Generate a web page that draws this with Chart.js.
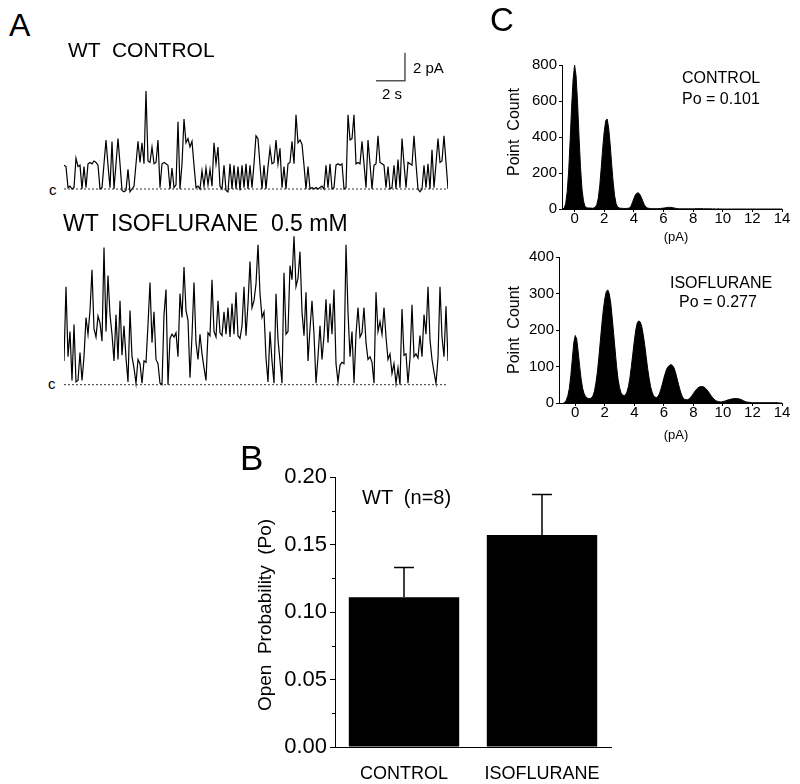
<!DOCTYPE html>
<html>
<head>
<meta charset="utf-8">
<script src="https://cdn.jsdelivr.net/npm/chart.js@4.4.1/dist/chart.umd.min.js"></script>
<style>
  html, body { margin:0; padding:0; background:#fff; }
  #fig { position:relative; width:800px; height:784px; overflow:hidden; font-family:"Liberation Sans", Arial, sans-serif; color:#000; }
  canvas { position:absolute; }
  .t { position:absolute; line-height:1; white-space:pre; color:#000; }
  .rot { position:absolute; line-height:1; white-space:pre; transform:translate(-50%,-50%) rotate(-90deg); }
</style>
</head>
<body>
<div id="fig">
  <canvas id="trControl" width="384" height="152" style="left:64px;top:45px;"></canvas>
  <canvas id="trIso" width="384" height="162" style="left:64px;top:228px;"></canvas>
  <canvas id="hControl" width="320" height="200" style="left:480px;top:50px;"></canvas>
  <canvas id="hIso" width="320" height="200" style="left:480px;top:240px;"></canvas>
  <canvas id="bars" width="400" height="324" style="left:230px;top:460px;"></canvas>

  <div class="t" style="left:9px;top:9px;font-size:32px;">A</div>
  <div class="t" style="left:68px;top:39px;font-size:21px;">WT  CONTROL</div>
  <div class="t" style="left:413px;top:60px;font-size:15px;">2 pA</div>
  <div class="t" style="left:382px;top:86px;font-size:15px;">2 s</div>
  <div class="t" style="left:49px;top:182px;font-size:15px;">c</div>
  <div class="t" style="left:63px;top:212px;font-size:23px;">WT  ISOFLURANE  0.5 mM</div>
  <div class="t" style="left:48px;top:376px;font-size:15px;">c</div>

  <div class="t" style="left:490px;top:3px;font-size:33px;">C</div>
  <div class="t" style="left:682px;top:70px;font-size:16px;">CONTROL</div>
  <div class="t" style="left:682px;top:91px;font-size:16px;">Po = 0.101</div>
  <div class="rot" style="left:514px;top:132px;font-size:16px;">Point  Count</div>
  <div class="t" style="left:676px;top:230px;font-size:13px;transform:translateX(-50%);">(pA)</div>
  <div class="t" style="left:670px;top:275px;font-size:16px;">ISOFLURANE</div>
  <div class="t" style="left:679px;top:294px;font-size:16px;">Po = 0.277</div>
  <div class="rot" style="left:514px;top:330px;font-size:16px;">Point  Count</div>
  <div class="t" style="left:676px;top:428px;font-size:13px;transform:translateX(-50%);">(pA)</div>

  <div class="t" style="left:240px;top:440px;font-size:35px;">B</div>
  <div class="t" style="left:362px;top:487px;font-size:20px;">WT  (n=8)</div>
  <div class="rot" style="left:264px;top:615px;font-size:19px;">Open  Probability  (Po)</div>
</div>
<script>
// ---------------- data ----------------
const sampleInterval = 0.1379; // s per sample (2 s scale bar)
const controlTrace = [
  1.7, 1.6, 0.1, 0.2, 0.0, 0.1, 2.2, 1.6, 1.7, 0.0,
  1.6, 0.1, 1.8, 1.9, 1.8, 2.0, 1.9, 1.7, 0.0, 0.1,
  1.8, 3.5, 1.7, 0.1, 3.4, 0.0, 1.8, 3.6, 1.8, -0.1,
  -0.2, -0.1, 1.4, -0.2, 0.0, 0.2, 1.8, 3.4, 1.9, 3.3,
  1.8, 7.0, 2.0, 1.9, 3.0, 1.8, 1.9, 3.5, 0.1, 1.8,
  1.9, 1.8, 1.7, 0.0, 1.5, 0.1, 0.3, 4.8, 0.0, 1.8,
  5.0, 3.3, 3.6, 3.0, 3.4, 1.7, 0.1, 0.2, 0.0, 1.3,
  0.2, 1.5, 0.3, 1.4, 0.2, 3.3, 1.8, 3.0, 0.2, 0.0,
  1.7, -0.1, -0.2, 1.8, 0.0, 1.7, 0.0, 1.6, -0.1, 1.7,
  0.1, 1.8, 0.0, 1.7, 0.1, 1.8, 3.8, 3.6, 1.7, 0.0,
  1.7, 0.0, 1.6, 2.9, 1.8, 1.9, 3.5, 1.8, 2.9, 0.1,
  1.6, 0.0, 1.8, 1.9, 3.4, 1.8, 5.3, 3.3, 3.5, 3.2,
  1.7, 0.0, 1.6, 0.0, 0.1, 0.0, 0.1, 0.0, 0.1, 0.2,
  0.0, 1.7, 0.1, 1.8, 0.0, 0.1, 1.7, 1.8, 1.7, 1.8,
  0.0, 0.1, 5.3, 3.5, 3.6, 5.3, 1.8, 1.9, 1.8, 3.4,
  1.8, 0.1, 3.5, 1.8, 0.0, 1.7, 1.8, 3.8, 1.9, 1.8,
  1.7, 0.1, 1.6, 0.0, 0.1, 1.7, 0.0, 2.1, 0.1, 3.6,
  1.8, 0.1, 1.9, 1.8, 1.7, 3.8, 1.8, 0.0, -0.2, 0.0,
  1.7, 0.1, 1.8, 0.0, 2.8, 0.1, 1.8, 3.6, 1.9, 2.0,
  3.8, 1.9, 0.0
];
const isoTrace = [
  1.7, 7.0, 2.0, 3.8, 0.3, 4.3, 0.2, 0.3, 2.3, 0.3,
  2.0, 4.8, 3.6, 5.3, 8.2, 4.0, 3.4, 4.9, 4.4, 3.1,
  9.8, 3.8, 7.8, 5.0, 3.6, 1.7, 5.0, 1.8, 6.0, 2.1,
  4.2, 1.9, 0.2, 5.3, 2.0, 1.2, 0.1, 1.8, 1.5, 0.1,
  1.7, 1.6, 4.3, 7.3, 3.0, 5.2, 1.8, 1.5, 0.1, 0.0,
  5.0, 6.8, 0.0, 3.3, 3.6, 3.4, 3.7, 2.0, 6.5, 4.8,
  8.4, 5.3, 4.6, 0.5, 3.5, 7.3, 3.0, 1.8, 3.6, 2.2,
  1.2, 0.3, 3.7, 3.5, 7.5, 3.8, 3.4, 6.0, 3.7, 3.5,
  5.2, 3.6, 5.5, 3.4, 5.8, 3.6, 6.6, 3.5, 3.3, 4.2,
  7.0, 3.5, 5.8, 8.8, 5.5, 6.0, 7.2, 10.0, 6.5, 4.8,
  5.2, 1.9, 0.2, 3.8, 1.7, 0.1, 6.5, 3.2, 1.7, 0.1,
  8.0, 3.6, 3.8, 8.5, 7.5, 10.6, 7.0, 7.6, 9.5, 5.2,
  3.5, 6.6, 1.7, 4.0, 6.0, 3.6, 0.1, 2.0, 4.2, 1.8,
  3.5, 6.1, 3.0, 5.8, 3.6, 6.8, 1.5, 0.2, 1.4, 1.6,
  1.5, 10.0, 5.2, 2.0, 3.8, 0.1, 3.6, 5.5, 3.4, 3.7,
  5.5, 3.0, 1.8, 2.0, 1.6, 0.1, 6.6, 3.8, 4.5, 3.6,
  5.5, 3.4, 1.8, 2.2, 0.8, 1.5, 0.1, 1.2, 0.0, 5.4,
  2.1, 2.2, 0.1, 1.9, 5.7, 2.0, 2.2, 1.9, 3.5, 2.0,
  5.0, 3.6, 7.0, 3.2, 1.8, 0.9, 0.1, 1.9, 7.0, 3.4,
  2.0, 5.6, 1.7
];

const histBinStart = -0.8;  // pA
const histBinWidth = 0.1;   // pA
const controlCounts = [
  0, 5, 30, 95, 210, 380, 570, 720,
  800, 740, 590, 400, 230, 110, 45, 15, 8, 5,
  6, 5, 4, 6, 10, 25, 60, 130, 230, 340,
  430, 490, 500, 450, 360, 250, 150, 75, 30, 12,
  6, 4, 4, 3, 3, 3, 4, 5, 15, 35,
  58, 78, 88, 90, 82, 65, 45, 25, 12, 6,
  4, 3, 2, 2, 2, 2, 2, 3, 3, 4,
  5, 6, 8, 9, 9, 9, 8, 6, 4, 3,
  2, 1, 1, 1, 1, 1, 1, 1, 1, 1,
  1, 1, 2, 2, 2, 2, 2, 1, 1, 1,
  1, 1, 1, 0, 1, 0, 0, 1, 0, 0,
  0, 0, 0, 0, 0, 0, 0, 0, 0, 0,
  0, 0, 0, 0, 0, 0, 0, 0, 0, 0,
  0, 0, 0, 0, 0, 0, 0, 0, 0, 0,
  0, 0, 0, 0, 0, 0, 0, 0, 0, 0,
  0
];
const isoCounts = [
  0, 2, 8, 20, 40, 75, 120, 165,
  185, 175, 140, 100, 65, 40, 25, 18, 14, 12,
  12, 14, 20, 32, 55, 85, 125, 170, 215, 255,
  285, 305, 310, 300, 275, 235, 190, 145, 100, 65,
  42, 28, 22, 20, 22, 30, 45, 68, 100, 135,
  170, 200, 220, 225, 222, 210, 188, 160, 128, 95,
  68, 45, 30, 20, 16, 15, 18, 25, 38, 52,
  68, 82, 94, 100, 104, 105, 102, 95, 82, 66,
  50, 35, 22, 14, 10, 9, 9, 11, 15, 20,
  26, 32, 37, 41, 44, 45, 45, 44, 41, 37,
  32, 26, 20, 15, 11, 7, 5, 4, 3, 3,
  4, 5, 6, 8, 9, 10, 11, 12, 12, 12,
  12, 11, 10, 8, 6, 4, 3, 2, 2, 1,
  1, 1, 1, 1, 1, 1, 1, 1, 1, 1,
  1, 1, 1, 1, 1, 1, 1, 1, 0, 0,
  0
];
const histXTicks = [0, 2, 4, 6, 8, 10, 12, 14];
const controlYTicks = [0, 200, 400, 600, 800];
const isoYTicks = [0, 100, 200, 300, 400];

const barCategories = ['CONTROL', 'ISOFLURANE'];
const barMeans = [0.111, 0.157];
const barSEM = [0.022, 0.030];
const poYTicks = [0, 0.05, 0.10, 0.15, 0.20];
const poMinorTicks = [0.025, 0.075, 0.125, 0.175];

// ---------------- charts ----------------
Chart.defaults.font.family = '"Liberation Sans", Arial, sans-serif';
Chart.defaults.color = '#000';
const common = { responsive:false, animation:false, events:[], plugins:{ legend:{display:false}, tooltip:{enabled:false} } };

const scaleBarPlugin = {
  id:'scaleBar',
  afterDraw(chart, args, o) {
    if (!o || o.t0 === undefined) return;
    const x = chart.scales.x, y = chart.scales.y, c = chart.ctx;
    c.save(); c.strokeStyle = '#555'; c.lineWidth = 1.5;
    c.beginPath();
    c.moveTo(x.getPixelForValue(o.t0), y.getPixelForValue(o.v0));
    c.lineTo(x.getPixelForValue(o.t1), y.getPixelForValue(o.v0));
    c.lineTo(x.getPixelForValue(o.t1), y.getPixelForValue(o.v1));
    c.stroke(); c.restore();
  }
};

function traceChart(id, values, yMin, yMax, bar) {
  const tMax = (values.length - 1) * sampleInterval;
  return new Chart(document.getElementById(id), {
    type:'line',
    data:{ datasets:[
      { data: values.map((v,i)=>({x:i*sampleInterval, y:v})), borderColor:'#000', borderWidth:1.2, pointRadius:0, tension:0, fill:false },
      { data: [{x:0,y:0},{x:tMax,y:0}], borderColor:'#333', borderWidth:1, borderDash:[2,2], pointRadius:0, fill:false }
    ]},
    options: Object.assign({}, common, {
      layout:{ padding:0 },
      plugins:{ legend:{display:false}, tooltip:{enabled:false}, scaleBar: bar || {} },
      scales:{
        x:{ type:'linear', display:false, min:0, max:tMax },
        y:{ display:false, min:yMin, max:yMax }
      }
    }),
    plugins:[scaleBarPlugin]
  });
}
traceChart('trControl', controlTrace, -0.571, 10.286, { t0:21.51, t1:23.51, v0:7.74, v1:9.74 });
traceChart('trIso', isoTrace, -0.38, 11.19);

function histChart(id, counts, xMin, yTicks, geom) {
  return new Chart(document.getElementById(id), {
    type:'line',
    data:{ datasets:[{
      data: counts.map((v,i)=>({x: histBinStart + i*histBinWidth, y:v})),
      borderColor:'#000', backgroundColor:'#000', borderWidth:1, pointRadius:0, tension:0, fill:'origin'
    }]},
    options: Object.assign({}, common, {
      layout:{ padding:{ top:geom.padTop, right:18, left:0, bottom:0 } },
      scales:{
        x:{ type:'linear', min:xMin, max:14,
            afterBuildTicks(s){ s.ticks = histXTicks.map(v=>({value:v})); },
            afterFit(s){ s.height = geom.xH; },
            grid:{ drawOnChartArea:false, tickLength:3, color:'#000' },
            border:{ color:'#000', width:1 },
            ticks:{ font:{ size:15, lineHeight:1 }, padding:-1, maxRotation:0, autoSkip:false, color:'#000' } },
        y:{ min:0, max:yTicks[yTicks.length-1],
            afterBuildTicks(s){ s.ticks = yTicks.map(v=>({value:v})); },
            afterFit(s){ s.width = geom.yW; },
            grid:{ drawOnChartArea:false, tickLength:3, color:'#000' },
            border:{ color:'#000', width:1 },
            ticks:{ font:{ size:15 }, padding:2, color:'#000' } }
      }
    })
  });
}
histChart('hControl', controlCounts, -0.85, controlYTicks, { padTop:15, xH:41, yW:82 });
histChart('hIso', isoCounts, -1.1, isoYTicks, { padTop:17, xH:37, yW:79 });

const errorBarPlugin = {
  id:'errorBars',
  afterDatasetsDraw(chart) {
    const c = chart.ctx, y = chart.scales.y, meta = chart.getDatasetMeta(0);
    c.save(); c.strokeStyle = '#000'; c.lineWidth = 1.5;
    meta.data.forEach((bar, i) => {
      const yTop = y.getPixelForValue(barMeans[i] + barSEM[i]);
      const yBase = y.getPixelForValue(barMeans[i]);
      const half = bar.width * 0.09;
      c.beginPath();
      c.moveTo(bar.x, yBase); c.lineTo(bar.x, yTop);
      c.moveTo(bar.x - half, yTop); c.lineTo(bar.x + half, yTop);
      c.stroke();
    });
    c.restore();
  }
};
const minorTickPlugin = {
  id:'minorTicks',
  afterDraw(chart) {
    const c = chart.ctx, y = chart.scales.y, left = chart.chartArea.left;
    c.save(); c.strokeStyle = '#000'; c.lineWidth = 1;
    poMinorTicks.forEach(v => {
      const p = Math.round(y.getPixelForValue(v)) + 0.5;
      c.beginPath(); c.moveTo(left - 3, p); c.lineTo(left, p); c.stroke();
    });
    c.restore();
  }
};
new Chart(document.getElementById('bars'), {
  type:'bar',
  data:{ labels: barCategories, datasets:[{ data: barMeans, backgroundColor:'#000', borderWidth:0, barPercentage:0.8, categoryPercentage:1 }] },
  options: Object.assign({}, common, {
    layout:{ padding:{ top:17, right:19, left:0, bottom:0 } },
    scales:{
      x:{ grid:{ display:false }, border:{ display:true, color:'#000', width:1 },
          afterFit(s){ s.height = 37; },
          ticks:{ font:{ size:18 }, padding:8, maxRotation:0, autoSkip:false, color:'#000' } },
      y:{ min:0, max:0.2,
          afterBuildTicks(s){ s.ticks = poYTicks.map(v=>({value:v})); },
          afterFit(s){ s.width = 105; },
          grid:{ drawOnChartArea:false, tickLength:5, color:'#000' },
          border:{ color:'#000', width:1 },
          ticks:{ font:{ size:22 }, padding:3, color:'#000', callback:(v)=>Number(v).toFixed(2) } }
    }
  }),
  plugins:[errorBarPlugin, minorTickPlugin]
});
</script>
</body>
</html>
